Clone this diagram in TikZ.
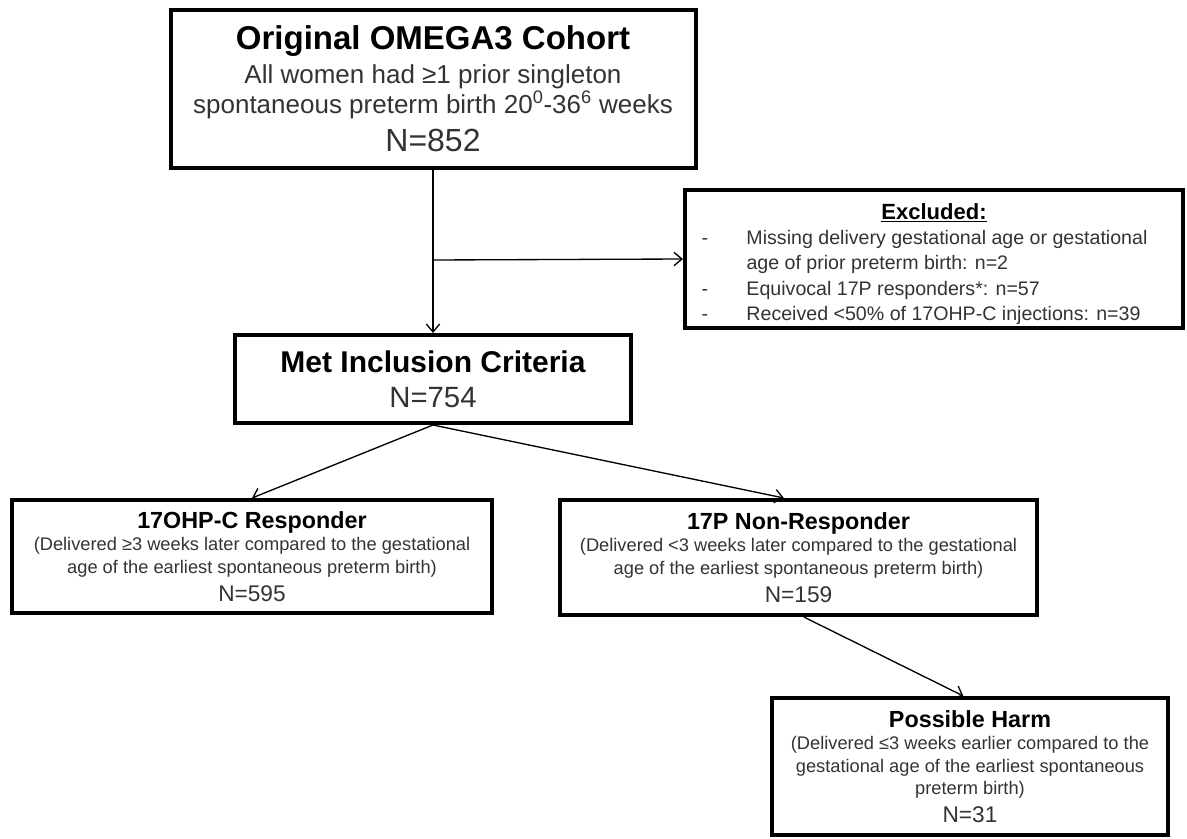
\documentclass[tikz,border=0pt]{standalone}
\usepackage{fontspec}
\setmainfont{Liberation Sans}
\usetikzlibrary{arrows.meta}
\definecolor{textgray}{gray}{0.2}

\begin{document}
\begin{tikzpicture}[x=0.75pt, y=-0.75pt]
        \tikzstyle{box}=[draw, line width=3pt, align=center, inner sep=0pt, text=textgray]
        \tikzstyle{small}=[font=\fontsize{13.7}{16.8}\selectfont]
        \tikzstyle{flow}=[line width=1pt, -{Straight Barb[length=6pt,width=10pt]}]

        \useasboundingbox (0,0) rectangle (1187,838);

        \node[box, minimum width=393.75pt, minimum height=118.5pt, font=\fontsize{19.5}{18.75}\selectfont] (cohort) at (433,89) {{\color{black}\bfseries\fontsize{24.75}{24.75}\selectfont Original OMEGA3 Cohort}\\[5pt] All women had ≥1 prior singleton\\ spontaneous preterm birth 20\textsuperscript{0}-36\textsuperscript{6} weeks\\[7pt] {\fontsize{24}{24}\selectfont N=852}};
        \node[box, minimum width=373.5pt, minimum height=103.5pt, font=\fontsize{14.7}{18.5}\selectfont] (excl) at (934,259) {\renewcommand\arraystretch{1.03}\begin{tabular}{@{}p{33.75pt}@{}p{315pt}@{}}
            \multicolumn{2}{c}{\rule{0pt}{22pt}\color{black}\bfseries\fontsize{16.5}{18.5}\selectfont\underline{Excluded:}}\\
            - & Missing delivery gestational age or gestational\\
              & age of prior preterm birth: n=2\\
            - & Equivocal 17P responders*: n=57\\
            - & Received <50\% of 17OHP-C injections: n=39
        \end{tabular}};
        \node[box, minimum width=297pt, minimum height=66pt, font=\fontsize{22}{26.25}\selectfont] (incl) at (433,379) {{\color{black}\bfseries\fontsize{22.5}{26.25}\selectfont Met Inclusion Criteria}\\ N=754};
        \node[box, small, minimum width=360pt, minimum height=84.75pt] (resp) at (252,556.5) {{\color{black}\bfseries\fontsize{17.5}{16.8}\selectfont 17OHP-C Responder}\\ (Delivered ≥3 weeks later compared to the gestational\\ age of the earliest spontaneous preterm birth)\\[4.5pt] {\fontsize{17}{16.8}\selectfont N=595}};
        \node[box, small, minimum width=357.75pt, minimum height=86.25pt] (nonresp) at (798.5,557.5) {{\color{black}\bfseries\fontsize{17.5}{16.8}\selectfont 17P Non-Responder}\\ (Delivered <3 weeks later compared to the gestational\\ age of the earliest spontaneous preterm birth)\\[4.5pt] {\fontsize{17}{16.8}\selectfont N=159}};
        \node[box, small, minimum width=297pt, minimum height=102.75pt] (harm) at (970,766.5) {{\color{black}\bfseries\fontsize{17.5}{16.8}\selectfont Possible Harm}\\ (Delivered ≤3 weeks earlier compared to the\\ gestational age of the earliest spontaneous\\ preterm birth)\\[4pt] {\fontsize{17}{16.8}\selectfont N=31}};

        \coordinate (split) at (433,260);

        \draw[flow] (cohort.south) -- (incl.north);
        \draw[flow] (split) -- (excl.west);
        \draw[flow] (incl.south) -- (resp.north);
        \draw[flow] (incl.south) -- ([xshift=-11pt]nonresp.north);
        \draw[flow] ([xshift=4pt]nonresp.south) -- ([xshift=-5pt]harm.north);
\end{tikzpicture}
\end{document}
